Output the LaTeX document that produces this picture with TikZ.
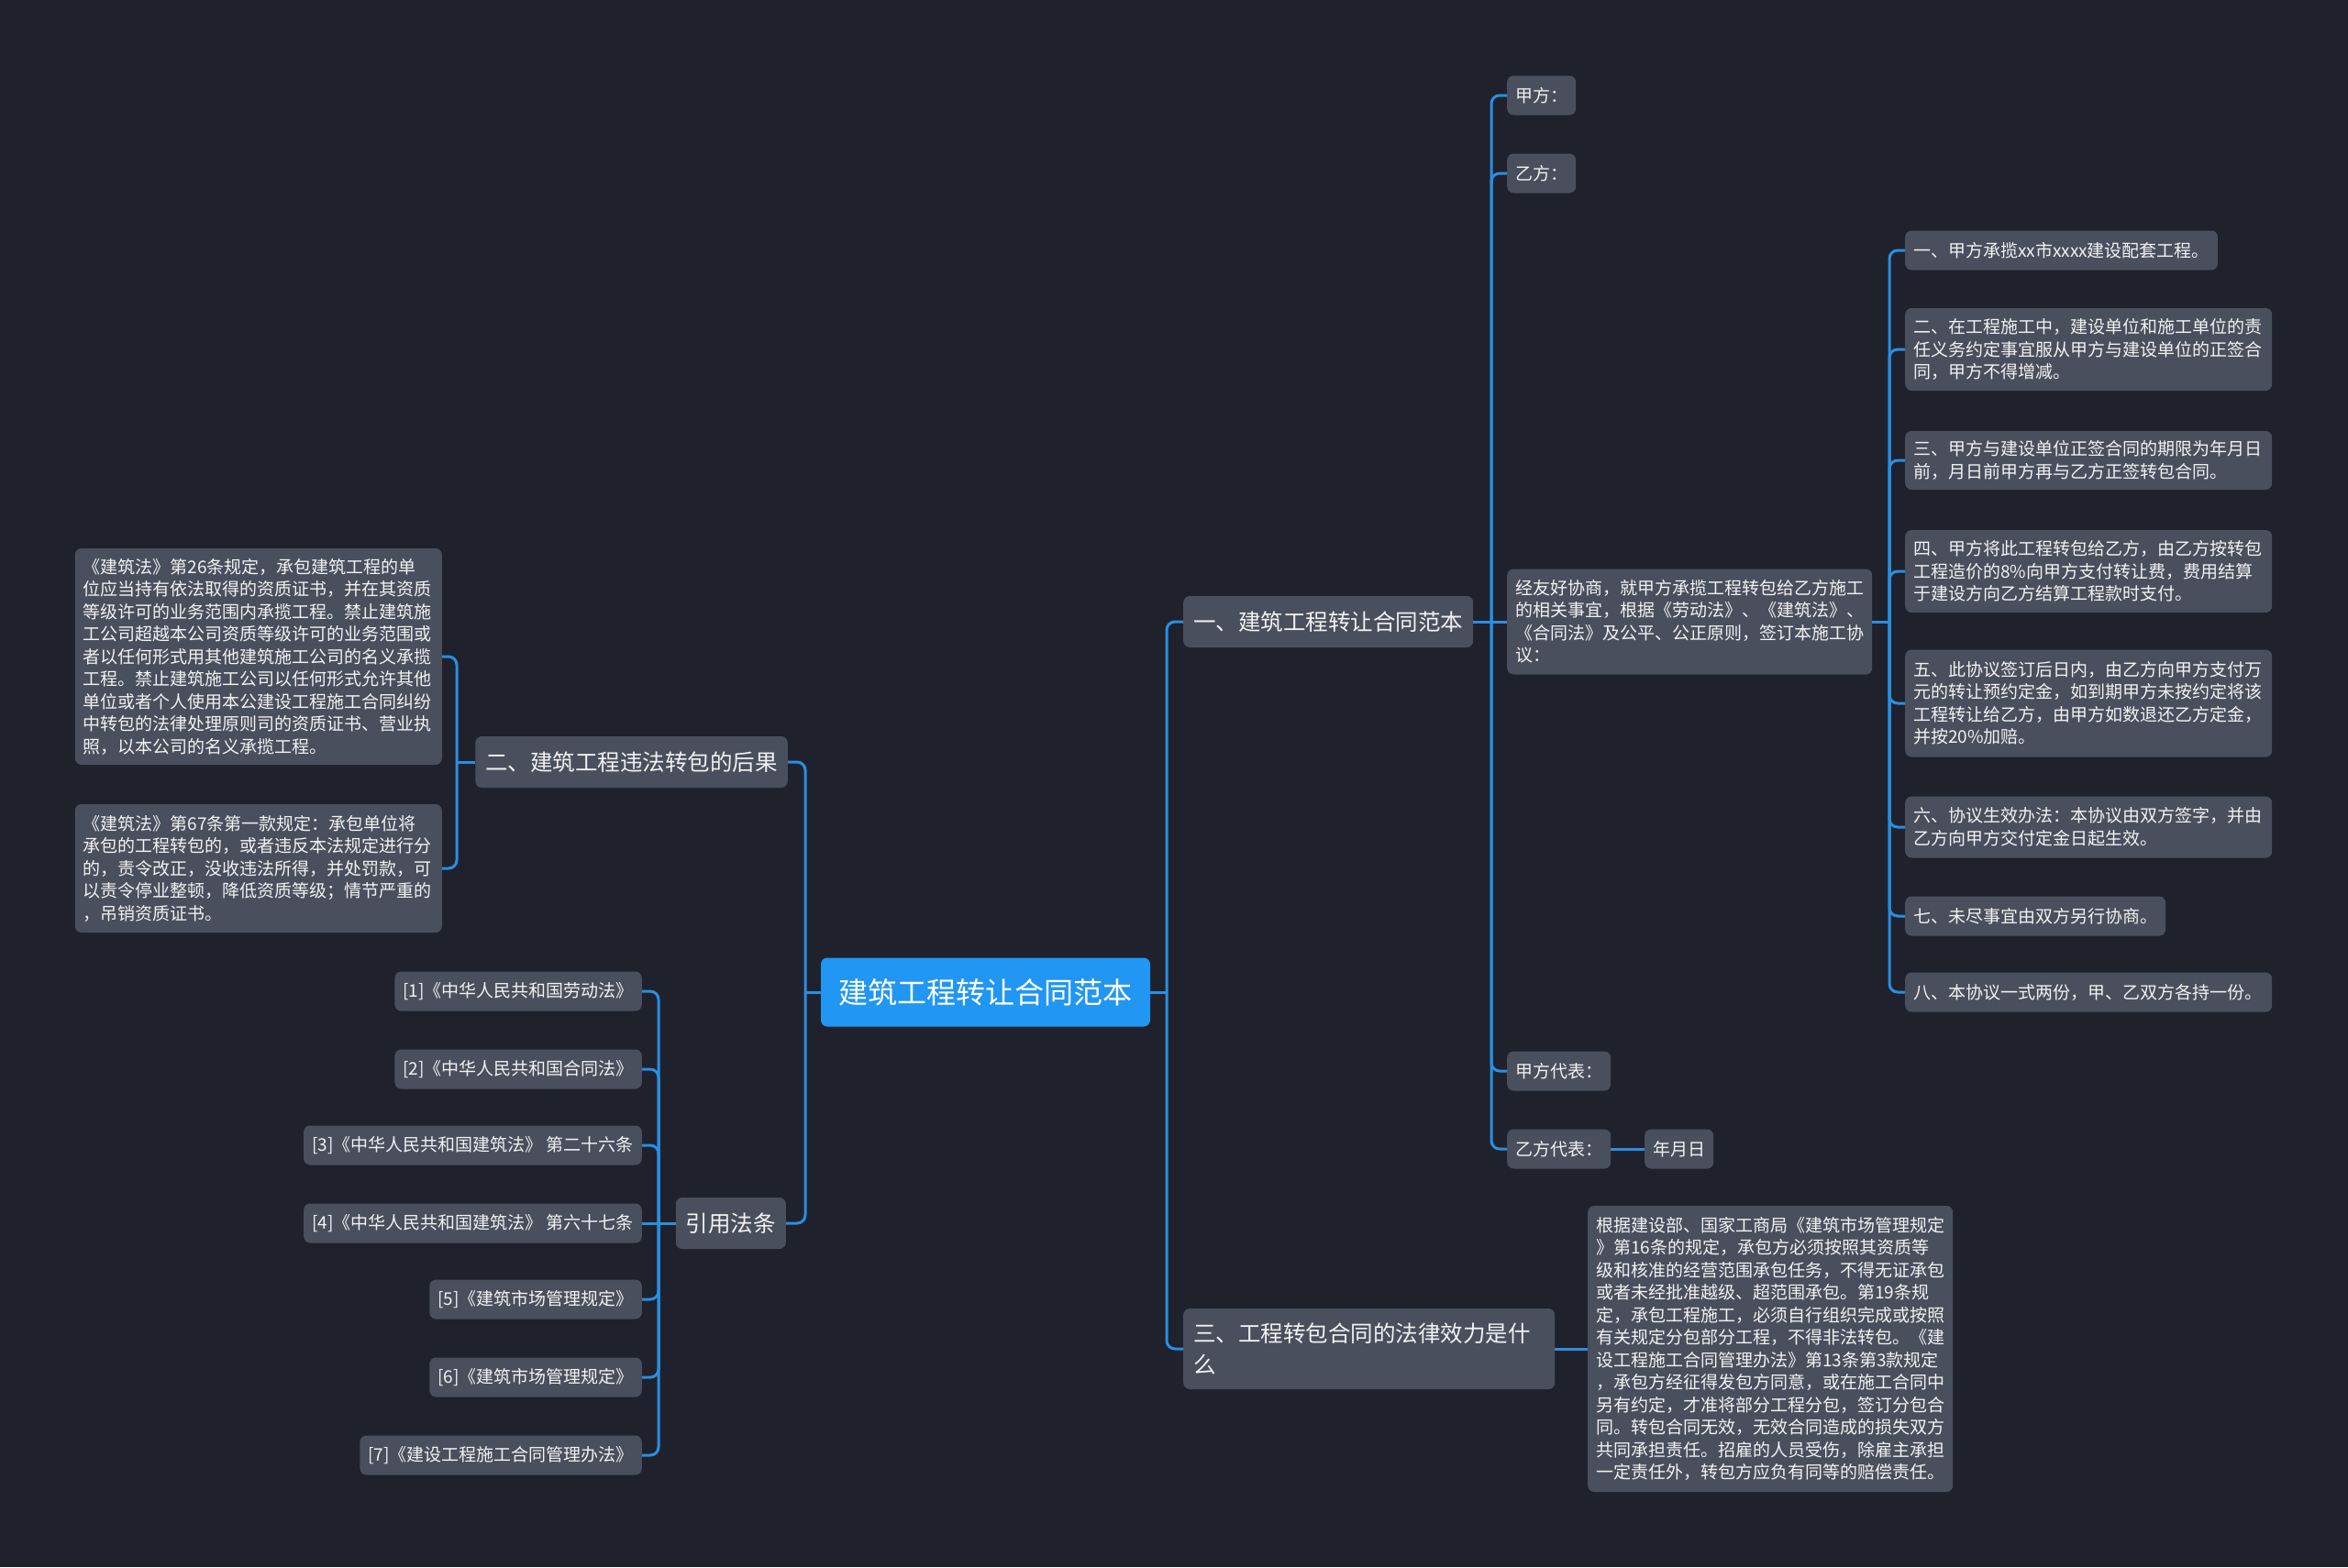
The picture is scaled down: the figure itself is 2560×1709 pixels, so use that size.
\documentclass[tikz,border=0pt]{standalone}
\usepackage{fontspec}
\setmainfont{Noto Sans CJK SC}
\definecolor{bg}{HTML}{1F222D}
\definecolor{nodegray}{HTML}{4A4F5E}
\definecolor{rootblue}{HTML}{2196F3}
\definecolor{linec}{HTML}{2A8FE0}
\definecolor{txt}{HTML}{F2F2F2}
\begin{document}
\begin{tikzpicture}[x=1pt,y=-1pt,
  box/.style={fill=nodegray, rounded corners=7pt, text=txt, inner xsep=9pt, inner ysep=0pt, align=left},
  leaf/.style={box, font=\fontsize{19pt}{24.5pt}\selectfont, minimum height=43pt},
  leafw/.style={leaf, text width=#1},
  br/.style={box, font=\fontsize{24.5pt}{34pt}\selectfont, minimum height=56pt, inner xsep=11pt},
  rootnode/.style={fill=rootblue, rounded corners=7pt, text=white, font=\fontsize{32pt}{38pt}\selectfont, minimum width=359pt, minimum height=75pt},
  conn/.style={draw=linec, line width=3pt, rounded corners=9pt},
]
\fill[bg] (0,0) rectangle (2560,1709);
\useasboundingbox (0,0) rectangle (2560,1709);

% spines
\coordinate (sR) at (1272,0);
\coordinate (sL) at (878,0);
\coordinate (s1) at (1626,0);
\coordinate (s1a) at (2060,0);
\coordinate (s2) at (498,0);
\coordinate (s3) at (718,0);

% root
\node[rootnode] (root) at (1074.5,1082) {建筑工程转让合同范本};

% branches
\node[br, anchor=west] (b1) at (1290,678) {一、建筑工程转让合同范本};
\node[br, anchor=west, text width=383pt, minimum height=88pt] (b4) at (1290,1471) {三、工程转包合同的法律效力是什\\么};
\node[br, anchor=east] (b2) at (859,831) {二、建筑工程违法转包的后果};
\node[br, anchor=east] (b3) at (857,1334) {引用法条};

% branch 1 children
\node[leaf, anchor=west] (c1) at (1643,104) {甲方：};
\node[leaf, anchor=west] (c2) at (1643,189) {乙方：};
\node[leafw=380pt, anchor=west, minimum height=115pt] (c3) at (1643,678) {经友好协商，就甲方承揽工程转包给乙方施工\\的相关事宜，根据《劳动法》、《建筑法》、\\《合同法》及公平、公正原则，签订本施工协\\议：};
\node[leaf, anchor=west] (c4) at (1643,1168) {甲方代表：};
\node[leaf, anchor=west] (c5) at (1643,1253) {乙方代表：};
\node[leaf, anchor=west] (c6) at (1793,1253) {年月日};

% items
\node[leaf, anchor=west] (d1) at (2077,273) {一、甲方承揽xx市xxxx建设配套工程。};
\node[leafw=382pt, anchor=west, minimum height=90pt] (d2) at (2077,381) {二、在工程施工中，建设单位和施工单位的责\\任义务约定事宜服从甲方与建设单位的正签合\\同，甲方不得增减。};
\node[leafw=382pt, anchor=west, minimum height=64pt] (d3) at (2077,502) {三、甲方与建设单位正签合同的期限为年月日\\前，月日前甲方再与乙方正签转包合同。};
\node[leafw=382pt, anchor=west, minimum height=90pt] (d4) at (2077,623) {四、甲方将此工程转包给乙方，由乙方按转包\\工程造价的8\%向甲方支付转让费，费用结算\\于建设方向乙方结算工程款时支付。};
\node[leafw=382pt, anchor=west, minimum height=117pt] (d5) at (2077,767) {五、此协议签订后日内，由乙方向甲方支付万\\元的转让预约定金，如到期甲方未按约定将该\\工程转让给乙方，由甲方如数退还乙方定金，\\并按20\%加赔。};
\node[leafw=382pt, anchor=west, minimum height=67pt] (d6) at (2077,902) {六、协议生效办法：本协议由双方签字，并由\\乙方向甲方交付定金日起生效。};
\node[leaf, anchor=west] (d7) at (2077,999) {七、未尽事宜由双方另行协商。};
\node[leafw=382pt, anchor=west] (d8) at (2077,1082) {八、本协议一式两份，甲、乙双方各持一份。};

% branch 2 children
\node[leafw=382pt, anchor=east, minimum height=236pt] (e1) at (482,716) {《建筑法》第26条规定，承包建筑工程的单\\位应当持有依法取得的资质证书，并在其资质\\等级许可的业务范围内承揽工程。禁止建筑施\\工公司超越本公司资质等级许可的业务范围或\\者以任何形式用其他建筑施工公司的名义承揽\\工程。禁止建筑施工公司以任何形式允许其他\\单位或者个人使用本公建设工程施工合同纠纷\\中转包的法律处理原则司的资质证书、营业执\\照，以本公司的名义承揽工程。};
\node[leafw=382pt, anchor=east, minimum height=140pt] (e2) at (482,947) {《建筑法》第67条第一款规定：承包单位将\\承包的工程转包的，或者违反本法规定进行分\\的，责令改正，没收违法所得，并处罚款，可\\以责令停业整顿，降低资质等级；情节严重的\\，吊销资质证书。};

% branch 3 children
\node[leaf, anchor=east] (f1) at (700,1081) {[1]《中华人民共和国劳动法》};
\node[leaf, anchor=east] (f2) at (700,1166) {[2]《中华人民共和国合同法》};
\node[leaf, anchor=east] (f3) at (700,1249) {[3]《中华人民共和国建筑法》 第二十六条};
\node[leaf, anchor=east] (f4) at (700,1334) {[4]《中华人民共和国建筑法》 第六十七条};
\node[leaf, anchor=east] (f5) at (700,1417) {[5]《建筑市场管理规定》};
\node[leaf, anchor=east] (f6) at (700,1502) {[6]《建筑市场管理规定》};
\node[leaf, anchor=east] (f7) at (700,1587) {[7]《建设工程施工合同管理办法》};

% branch 4 child
\node[leafw=380pt, anchor=west, minimum height=312pt] (g1) at (1731,1471) {根据建设部、国家工商局《建筑市场管理规定\\》第16条的规定，承包方必须按照其资质等\\级和核准的经营范围承包任务，不得无证承包\\或者未经批准越级、超范围承包。第19条规\\定，承包工程施工，必须自行组织完成或按照\\有关规定分包部分工程，不得非法转包。《建\\设工程施工合同管理办法》第13条第3款规定\\，承包方经征得发包方同意，或在施工合同中\\另有约定，才准将部分工程分包，签订分包合\\同。转包合同无效，无效合同造成的损失双方\\共同承担责任。招雇的人员受伤，除雇主承担\\一定责任外，转包方应负有同等的赔偿责任。};

% connectors: root
\draw[conn] (root.east) -- (root.east -| sR);
\draw[conn] (root.east -| sR) |- (b1.west);
\draw[conn] (root.east -| sR) |- (b4.west);
\draw[conn] (root.west) -- (root.west -| sL);
\draw[conn] (root.west -| sL) |- (b2.east);
\draw[conn] (root.west -| sL) |- (b3.east);

% branch 1
\draw[conn] (b1.east) -- (c3.west);
\foreach \c in {c1,c2,c4,c5} \draw[conn] (b1.east -| s1) |- (\c.west);
\draw[conn] (c5.east) -- (c6.west);

% items
\draw[conn] (c3.east) -- (c3.east -| s1a);
\foreach \d in {d1,d2,d3,d4,d5,d6,d7,d8} \draw[conn] (c3.east -| s1a) |- (\d.west);

% branch 2
\draw[conn] (b2.west) -- (b2.west -| s2);
\foreach \e in {e1,e2} \draw[conn] (b2.west -| s2) |- (\e.east);

% branch 3
\draw[conn] (b3.west) -- (f4.east);
\foreach \f in {f1,f2,f3,f5,f6,f7} \draw[conn] (b3.west -| s3) |- (\f.east);

% branch 4
\draw[conn] (b4.east) -- (g1.west);
\end{tikzpicture}
\end{document}
